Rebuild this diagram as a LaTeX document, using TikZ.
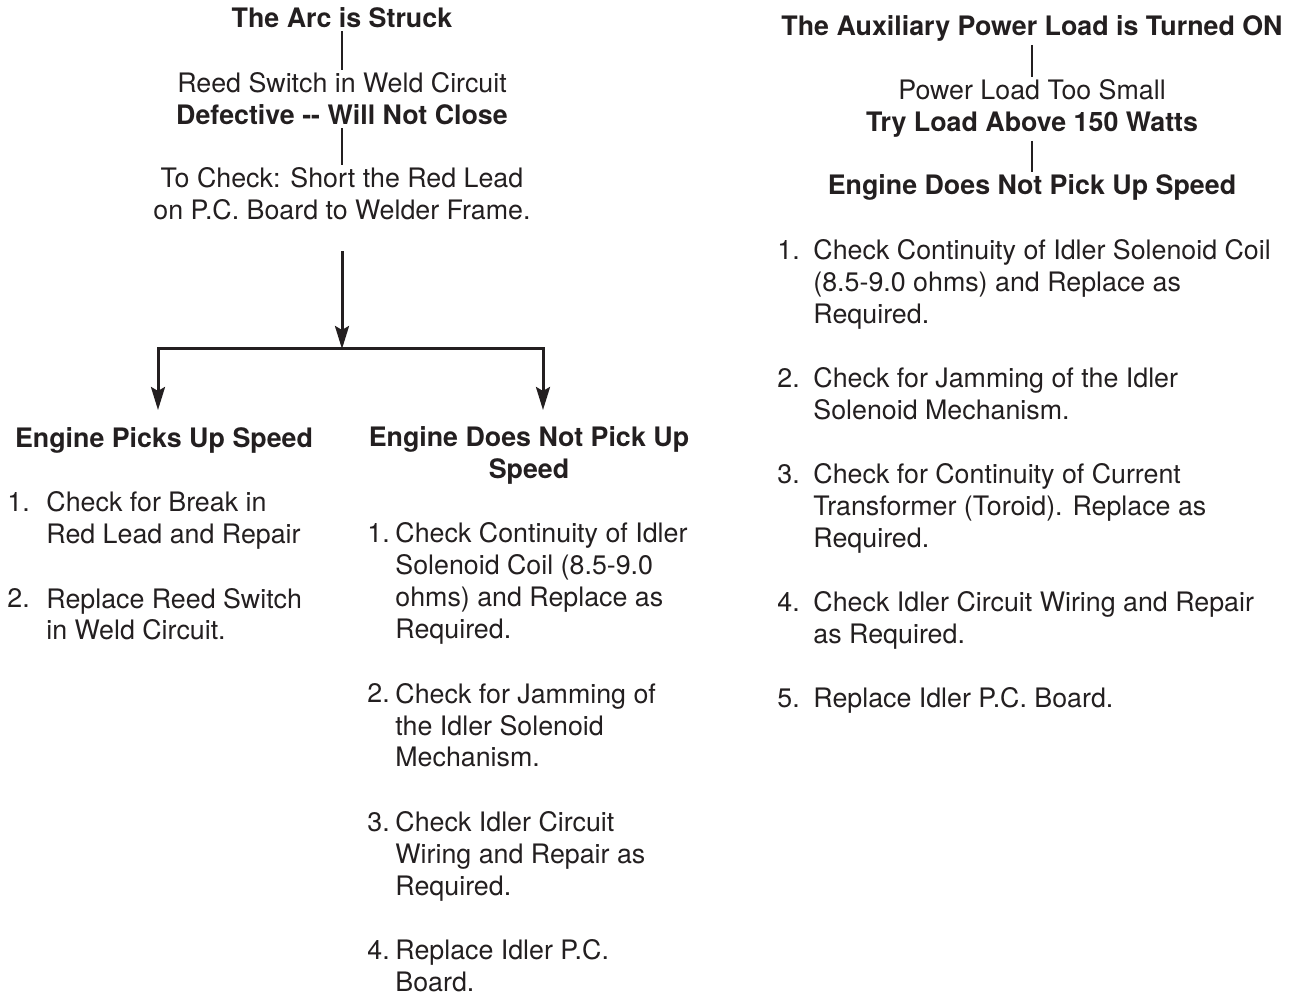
\documentclass[tikz,border=0pt]{standalone}
\usepackage{fontspec}
\setmainfont{TeX Gyre Heros}
\usetikzlibrary{arrows.meta}
\definecolor{ink}{HTML}{231F20}
\newcommand\chartfont{\fontsize{13.4}{16}\selectfont}
\begin{document}
\begin{tikzpicture}[x=.5pt, y=-.5pt, font=\chartfont, color=ink, line join=miter,
    head/.style={inner sep=0pt, outer sep=1.5pt, align=center, anchor=base},
    num/.style={inner sep=0pt, anchor=base west},
    item/.style={inner sep=0pt, align=left, anchor=base west},
    link/.style={line width=1pt},
    flow/.style={line width=1.5pt, -{Stealth[length=11.5pt, width=7pt, inset=2pt]}}]
    \useasboundingbox (0,0) rectangle (1292,994);
    % weld circuit branch (multi-line nodes sit on their last baseline)
    \node[head, font=\chartfont\bfseries] (arc) at (342,28) {The Arc is Struck};
    \node[head] (reed) at (342,125) {Reed Switch in Weld Circuit\\\textbf{Defective -{}- Will Not Close}};
    \node[head] (tocheck) at (342,220) {To Check: Short the Red Lead\\on P.C. Board to Welder Frame.};
    \draw[link] (arc) -- (reed);
    \draw[link] (reed) -- (tocheck);
    \coordinate (split) at (342,349);
    \coordinate (picktip) at (158,410);
    \coordinate (notip) at (543,410);
    \draw[flow, shorten <=14pt] (tocheck) -- (split);
    \draw[flow] (split) -| (picktip);
    \draw[flow] (split) -| (notip);
    % engine picks up speed
    \node[head, font=\chartfont\bfseries] (picks) at (164,448) {Engine Picks Up Speed};
    \foreach \n/\y/\ylast/\txt in {1/512/544/{Check for Break in\\Red Lead and Repair},
        2/608/640/{Replace Reed Switch\\in Weld Circuit.}}{
        \node[num] (pn\n) at (7,\y) {\n.};
        \node[item] (pt\n) at (46,\ylast) {\txt};
    }
    % engine does not pick up speed
    \node[head, font=\chartfont\bfseries] (nopick) at (529,479) {Engine Does Not Pick Up\\Speed};
    \foreach \n/\y/\ylast/\txt in {1/543/639/{Check Continuity of Idler\\Solenoid Coil (8.5-9.0\\ohms) and Replace as\\Required.},
        2/703/767/{Check for Jamming of\\the Idler Solenoid\\Mechanism.},
        3/831/895/{Check Idler Circuit\\Wiring and Repair as\\Required.},
        4/959/991/{Replace Idler P.C.\\Board.}}{
        \node[num] (nn\n) at (367,\y) {\n.};
        \node[item] (nt\n) at (395,\ylast) {\txt};
    }
    % auxiliary power branch
    \node[head, font=\chartfont\bfseries] (aux) at (1032,36) {The Auxiliary Power Load is Turned ON};
    \node[head] (small) at (1032,132) {Power Load Too Small\\\textbf{Try Load Above 150 Watts}};
    \node[head, font=\chartfont\bfseries] (engine) at (1032,195) {Engine Does Not Pick Up Speed};
    \draw[link] (aux) -- (small);
    \draw[link] (small) -- (engine);
    \foreach \n/\y/\ylast/\txt in {1/260/324/{Check Continuity of Idler Solenoid Coil\\(8.5-9.0 ohms) and Replace as\\Required.},
        2/388/420/{Check for Jamming of the Idler\\Solenoid Mechanism.},
        3/484/548/{Check for Continuity of Current\\Transformer (Toroid). Replace as\\Required.},
        4/612/644/{Check Idler Circuit Wiring and Repair\\as Required.},
        5/708/708/{Replace Idler P.C. Board.}}{
        \node[num] (rn\n) at (777,\y) {\n.};
        \node[item] (rt\n) at (813,\ylast) {\txt};
    }
\end{tikzpicture}
\end{document}
